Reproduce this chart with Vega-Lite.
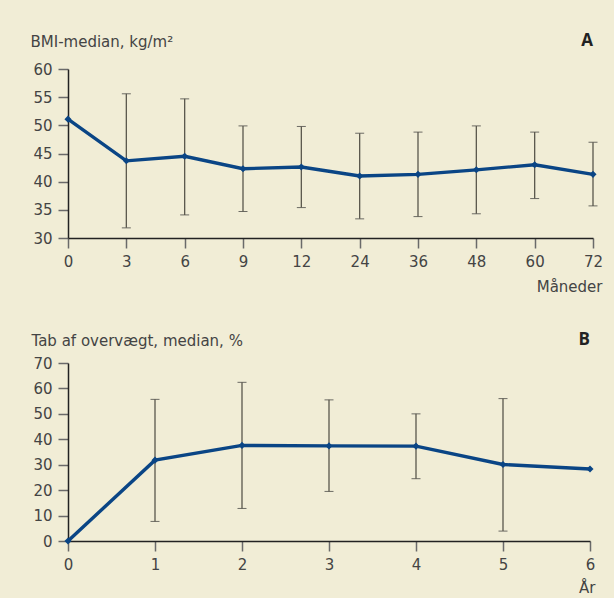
{
  "$schema": "https://vega.github.io/schema/vega-lite/v6.json",
  "background": "#f1edd6",
  "padding": {"left": 30, "top": 32, "right": 16, "bottom": 6},
  "config": {
    "font": "DejaVu Sans",
    "view": {"stroke": null},
    "axis": {
      "labelFont": "DejaVu Sans", "labelFontSize": 15, "labelColor": "#444444", "labelFlush": false,
      "titleFont": "DejaVu Sans", "titleFontSize": 15, "titleColor": "#444444", "titleFontWeight": "normal",
      "domainColor": "#222222", "domainWidth": 1.5, "tickColor": "#6a6a6a", "tickWidth": 1.5, "tickSize": 10,
      "grid": false, "labelPadding": 6
    },
    "title": {"font": "Open Sans", "fontSize": 17, "fontWeight": "bold", "color": "#222222", "anchor": "end", "frame": "group"}
  },
  "spacing": 37,
  "vconcat": [
    {
      "width": 525, "height": 169,
      "title": {"text": "A", "offset": -16},
      "data": {"values": [
        {"m": 0, "v": 51.1, "lo": null, "hi": null},
        {"m": 3, "v": 43.7, "lo": 31.8, "hi": 55.6},
        {"m": 6, "v": 44.5, "lo": 34.1, "hi": 54.7},
        {"m": 9, "v": 42.3, "lo": 34.7, "hi": 49.9},
        {"m": 12, "v": 42.6, "lo": 35.4, "hi": 49.8},
        {"m": 24, "v": 41.0, "lo": 33.4, "hi": 48.6},
        {"m": 36, "v": 41.3, "lo": 33.8, "hi": 48.8},
        {"m": 48, "v": 42.1, "lo": 34.3, "hi": 49.9},
        {"m": 60, "v": 43.0, "lo": 37.0, "hi": 48.8},
        {"m": 72, "v": 41.3, "lo": 35.7, "hi": 47.0}
      ]},
      "encoding": {
        "x": {"field": "m", "type": "ordinal", "scale": {"type": "point", "padding": 0},
              "axis": {"labelAngle": 0, "title": "Måneder", "titleAnchor": "end", "titleAlign": "right", "titleBaseline": "alphabetic", "titleX": 534, "titleY": 53, "labelPadding": 6}}
      },
      "layer": [
        {
          "transform": [{"filter": "datum.lo != null"}],
          "mark": {"type": "errorbar", "ticks": {"size": 9, "color": "#333333", "strokeWidth": 1.3}, "rule": {"color": "#5a574c", "strokeWidth": 1.3}},
          "encoding": {
            "y": {"field": "lo", "type": "quantitative", "scale": {"domain": [30, 60]},
                  "axis": {"values": [30, 35, 40, 45, 50, 55, 60], "title": "BMI-median, kg/m²", "titleAngle": 0, "titleAlign": "left", "titleBaseline": "alphabetic", "titleX": -38, "titleY": -23}},
            "y2": {"field": "hi"}
          }
        },
        {
          "mark": {"type": "line", "color": "#0a4585", "strokeWidth": 3.4, "point": {"shape": "diamond", "size": 50, "color": "#0a4585", "filled": true}},
          "encoding": {
            "y": {"field": "v", "type": "quantitative", "scale": {"domain": [30, 60]},
                  "axis": {"values": [30, 35, 40, 45, 50, 55, 60], "title": "BMI-median, kg/m²", "titleAngle": 0, "titleAlign": "left", "titleBaseline": "alphabetic", "titleX": -38, "titleY": -23}}
          }
        }
      ]
    },
    {
      "width": 522, "height": 178,
      "title": {"text": "B", "offset": -16},
      "data": {"values": [
        {"y": 0, "v": 0, "lo": null, "hi": null},
        {"y": 1, "v": 31.8, "lo": 7.7, "hi": 55.7},
        {"y": 2, "v": 37.6, "lo": 12.8, "hi": 62.4},
        {"y": 3, "v": 37.4, "lo": 19.5, "hi": 55.5},
        {"y": 4, "v": 37.3, "lo": 24.5, "hi": 50.0},
        {"y": 5, "v": 30.1, "lo": 3.9, "hi": 56.0},
        {"y": 6, "v": 28.3, "lo": null, "hi": null}
      ]},
      "encoding": {
        "x": {"field": "y", "type": "quantitative", "scale": {"domain": [0, 6], "nice": false},
              "axis": {"values": [0, 1, 2, 3, 4, 5, 6], "title": "År", "titleAnchor": "end", "titleAlign": "right", "titleBaseline": "alphabetic", "titleX": 527, "titleY": 51, "labelPadding": 6}}
      },
      "layer": [
        {
          "transform": [{"filter": "datum.lo != null"}],
          "mark": {"type": "errorbar", "ticks": {"size": 9, "color": "#333333", "strokeWidth": 1.3}, "rule": {"color": "#5a574c", "strokeWidth": 1.3}},
          "encoding": {
            "y": {"field": "lo", "type": "quantitative", "scale": {"domain": [0, 70]},
                  "axis": {"values": [0, 10, 20, 30, 40, 50, 60, 70], "title": "Tab af overvægt, median, %", "titleAngle": 0, "titleAlign": "left", "titleBaseline": "alphabetic", "titleX": -37, "titleY": -18}},
            "y2": {"field": "hi"}
          }
        },
        {
          "mark": {"type": "line", "color": "#0a4585", "strokeWidth": 3.4, "point": {"shape": "diamond", "size": 50, "color": "#0a4585", "filled": true}},
          "encoding": {
            "y": {"field": "v", "type": "quantitative", "scale": {"domain": [0, 70]},
                  "axis": {"values": [0, 10, 20, 30, 40, 50, 60, 70], "title": "Tab af overvægt, median, %", "titleAngle": 0, "titleAlign": "left", "titleBaseline": "alphabetic", "titleX": -37, "titleY": -18}}
          }
        }
      ]
    }
  ]
}
